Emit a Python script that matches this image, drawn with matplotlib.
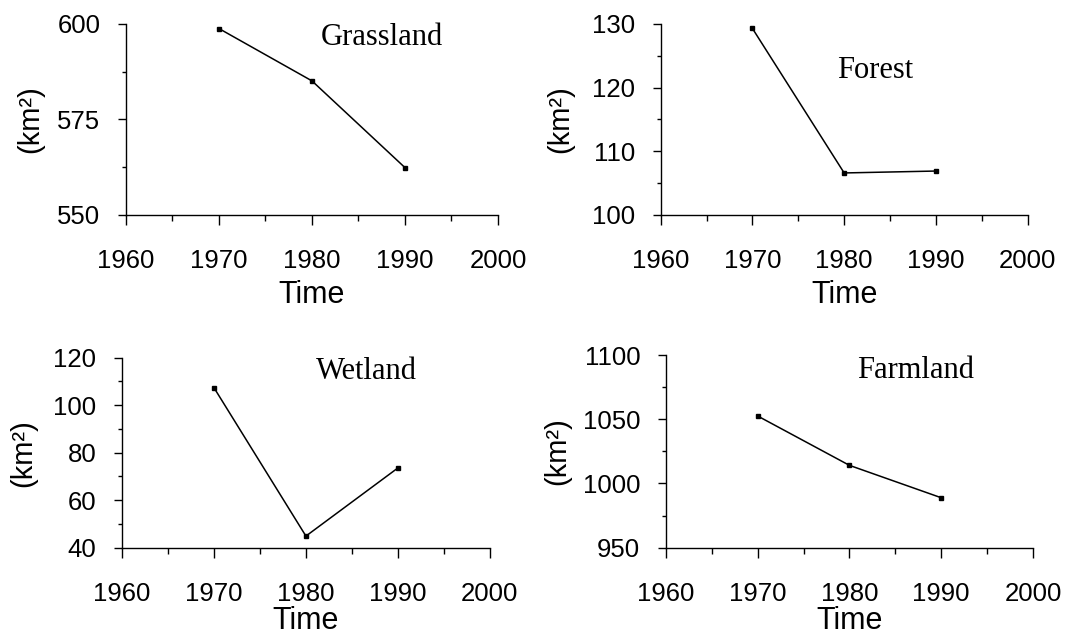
import matplotlib
matplotlib.use("Agg")
import matplotlib.pyplot as plt
from matplotlib.ticker import MultipleLocator

# Land-use area over time (km^2)
years = [1970, 1980, 1990]
grassland = [598.8, 585.1, 562.4]
forest = [129.3, 106.6, 106.9]
wetland = [107.4, 44.9, 73.6]
farmland = [1052.5, 1014.1, 988.9]

panel_names = ["Grassland", "Forest", "Wetland", "Farmland"]
panel_values = [grassland, forest, wetland, farmland]
y_limits = [(550, 600), (100, 130), (40, 120), (950, 1100)]
y_major = [25, 10, 20, 50]

# layout (figure fractions) and annotation positions (axes fractions)
axes_rects = [
    [0.1159, 0.662, 0.3422, 0.3003],
    [0.6078, 0.662, 0.3376, 0.3003],
    [0.1122, 0.1388, 0.3385, 0.2987],
    [0.6127, 0.1388, 0.3376, 0.3030],
]
name_pos = [(0.687, 0.927), (0.585, 0.759), (0.663, 0.926), (0.68, 0.922)]
ylabel_off = [96, 100, 99, 109]
xlabel_base = [88, 88, 81, 81]   # px from x axis to "Time" baseline

plt.rcParams["font.family"] = ["Liberation Sans", "DejaVu Sans"]

fig = plt.figure(figsize=(10.87, 6.36), dpi=100)

for i in range(4):
    ax = fig.add_axes(axes_rects[i])
    ax.plot(years, panel_values[i], color="black", linewidth=1.1,
            marker="s", markersize=3.0)
    ax.set_xlim(1960, 2000)
    ax.set_ylim(*y_limits[i])
    ax.xaxis.set_major_locator(MultipleLocator(10))
    ax.xaxis.set_minor_locator(MultipleLocator(5))
    ax.yaxis.set_major_locator(MultipleLocator(y_major[i]))
    ax.yaxis.set_minor_locator(MultipleLocator(y_major[i] / 2))

    for side in ["top", "right"]:
        ax.spines[side].set_visible(False)
    for side in ["left", "bottom"]:
        ax.spines[side].set_linewidth(1.0)

    ax.tick_params(axis="both", which="both", width=1.0, direction="out",
                   labelsize=18.5)
    ax.tick_params(axis="x", which="major", length=7.2, pad=17.3)
    ax.tick_params(axis="x", which="minor", length=4.3)
    ax.tick_params(axis="y", which="major", length=6.0, pad=12.5)
    ax.tick_params(axis="y", which="minor", length=3.2)

    ax.set_xlabel("Time", fontsize=22)
    ax.xaxis.set_label_coords(0.5, -xlabel_base[i] / (axes_rects[i][3] * 636))
    ax.xaxis.label.set_va("baseline")

    ax.set_ylabel("(km²)", fontsize=21)
    ax.yaxis.set_label_coords(-ylabel_off[i] / (axes_rects[i][2] * 1087), 0.5)
    ax.yaxis.label.set_va("center")

    ax.text(name_pos[i][0], name_pos[i][1], panel_names[i],
            transform=ax.transAxes, ha="center", va="center",
            fontsize=22, family=["Liberation Serif", "DejaVu Serif"])

fig.savefig("out.png", dpi=100)
